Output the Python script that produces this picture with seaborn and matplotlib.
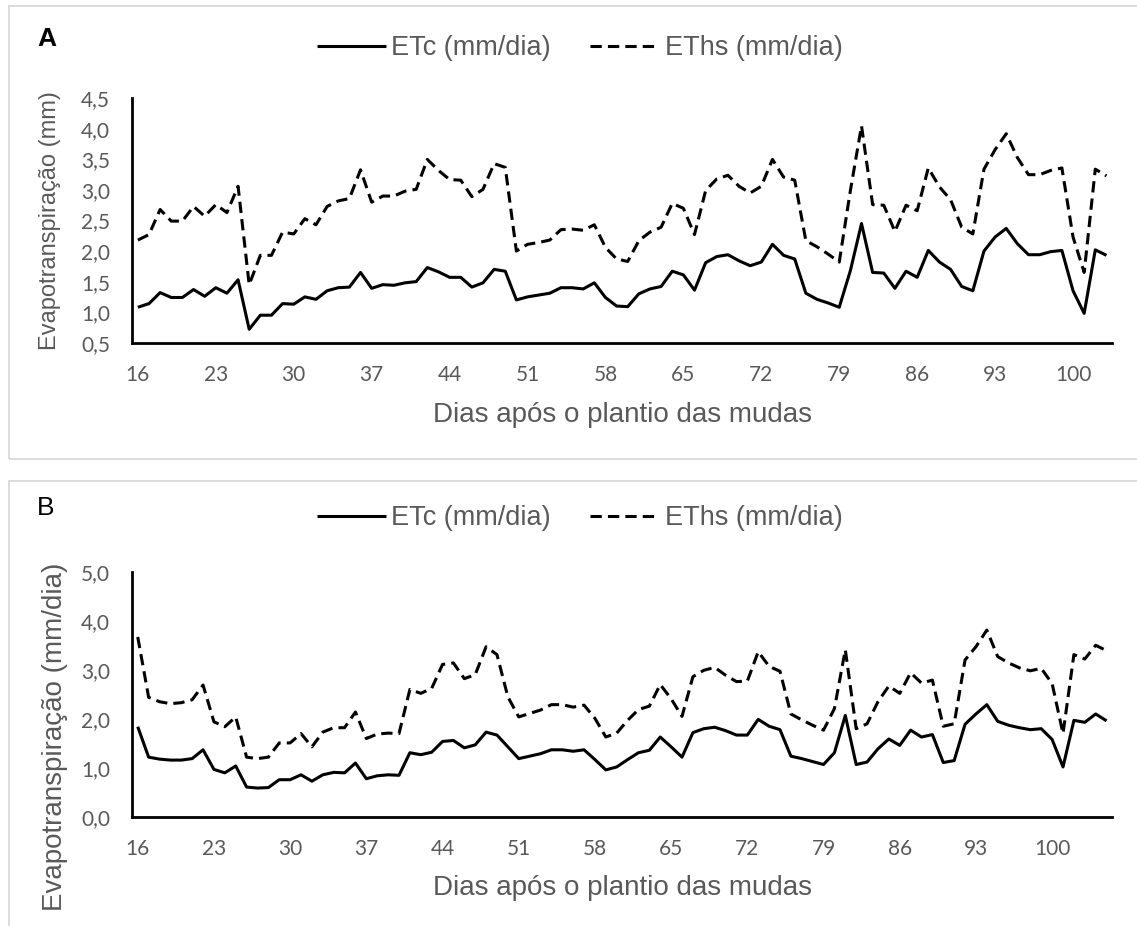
import numpy as np
import pandas as pd
import matplotlib
matplotlib.use("Agg")
import matplotlib.pyplot as plt
from matplotlib.patches import Rectangle
from matplotlib.ticker import FuncFormatter
import seaborn as sns

# ---------------- data ----------------
dias_a = list(range(16, 104))
etc_a = [1.08, 1.14, 1.32, 1.24, 1.24, 1.37, 1.26, 1.40, 1.31, 1.53,
         0.72, 0.95, 0.95, 1.14, 1.13, 1.25, 1.21, 1.35, 1.40, 1.41,
         1.65, 1.39, 1.45, 1.44, 1.48, 1.50, 1.73, 1.66, 1.57, 1.57,
         1.41, 1.48, 1.70, 1.67, 1.20, 1.25, 1.28, 1.31, 1.40, 1.40,
         1.38, 1.48, 1.24, 1.10, 1.09, 1.30, 1.38, 1.42, 1.67, 1.61,
         1.36, 1.81, 1.91, 1.94, 1.84, 1.76, 1.82, 2.11, 1.93, 1.87,
         1.31, 1.21, 1.15, 1.08, 1.68, 2.45, 1.65, 1.64, 1.39, 1.67,
         1.57, 2.01, 1.82, 1.70, 1.42, 1.35, 2.00, 2.23, 2.37, 2.12,
         1.94, 1.94, 1.99, 2.01, 1.35, 0.98, 2.02, 1.93]
eths_a = [2.18, 2.27, 2.68, 2.49, 2.49, 2.73, 2.57, 2.76, 2.63, 3.06,
          1.45, 1.93, 1.93, 2.31, 2.28, 2.53, 2.43, 2.73, 2.82, 2.86,
          3.33, 2.80, 2.90, 2.90, 2.98, 3.01, 3.50, 3.32, 3.17, 3.16,
          2.89, 3.01, 3.43, 3.37, 2.00, 2.11, 2.14, 2.18, 2.35, 2.36,
          2.34, 2.43, 2.06, 1.87, 1.83, 2.17, 2.31, 2.39, 2.78, 2.70,
          2.27, 2.99, 3.18, 3.24, 3.06, 2.95, 3.06, 3.50, 3.21, 3.16,
          2.17, 2.07, 1.95, 1.82, 2.99, 4.05, 2.76, 2.75, 2.32, 2.75,
          2.66, 3.36, 3.05, 2.84, 2.39, 2.28, 3.34, 3.66, 3.92, 3.53,
          3.25, 3.25, 3.32, 3.36, 2.23, 1.65, 3.34, 3.23]

dias_b = list(range(16, 106))
etc_b = [1.84, 1.22, 1.18, 1.16, 1.16, 1.19, 1.37, 0.97, 0.90, 1.04,
         0.61, 0.59, 0.60, 0.76, 0.76, 0.86, 0.73, 0.86, 0.91, 0.90,
         1.10, 0.78, 0.84, 0.86, 0.85, 1.31, 1.27, 1.32, 1.54, 1.56,
         1.41, 1.47, 1.73, 1.67, 1.43, 1.19, 1.24, 1.29, 1.37, 1.37,
         1.34, 1.37, 1.17, 0.96, 1.02, 1.17, 1.31, 1.36, 1.63, 1.43,
         1.22, 1.72, 1.80, 1.83, 1.76, 1.67, 1.67, 1.99, 1.85, 1.78,
         1.24, 1.19, 1.13, 1.07, 1.31, 2.07, 1.07, 1.12, 1.39, 1.59,
         1.46, 1.77, 1.63, 1.68, 1.11, 1.15, 1.89, 2.10, 2.29, 1.95,
         1.87, 1.82, 1.78, 1.80, 1.58, 1.02, 1.97, 1.93, 2.10, 1.96]
eths_b = [3.67, 2.44, 2.35, 2.31, 2.33, 2.39, 2.69, 1.94, 1.84, 2.04,
          1.22, 1.19, 1.22, 1.51, 1.51, 1.70, 1.43, 1.73, 1.82, 1.82,
          2.14, 1.60, 1.69, 1.71, 1.70, 2.60, 2.52, 2.62, 3.11, 3.14,
          2.82, 2.90, 3.47, 3.31, 2.45, 2.04, 2.11, 2.18, 2.29, 2.29,
          2.24, 2.28, 2.01, 1.63, 1.71, 1.97, 2.19, 2.26, 2.70, 2.41,
          2.05, 2.86, 2.99, 3.05, 2.89, 2.76, 2.77, 3.37, 3.07, 2.97,
          2.10, 1.98, 1.87, 1.77, 2.21, 3.41, 1.80, 1.90, 2.35, 2.67,
          2.52, 2.94, 2.73, 2.79, 1.85, 1.90, 3.20, 3.47, 3.81, 3.27,
          3.14, 3.04, 2.98, 3.03, 2.72, 1.70, 3.31, 3.22, 3.50, 3.39]

series_names = ["ETc (mm/dia)", "EThs (mm/dia)"]
xticks = list(range(16, 101, 7))
yticks_a = [0.5, 1.0, 1.5, 2.0, 2.5, 3.0, 3.5, 4.0, 4.5]
yticks_b = [0.0, 1.0, 2.0, 3.0, 4.0, 5.0]

# ---------------- style ----------------
sns.set_theme(style="white")
plt.rcParams["font.family"] = ["Liberation Sans", "DejaVu Sans"]
GREY = "#595959"
W, H = 1137, 926
fig = plt.figure(figsize=(W / 100, H / 100), dpi=100)


def fx(px):
    return px / W


def fy(py):
    return 1 - py / H


# outer chart-area boxes
fig.add_artist(Rectangle((fx(8.5), fy(459.3)), 1.2, fy(6.4) - fy(459.3),
                         transform=fig.transFigure, fill=False,
                         edgecolor="#d9d9d9", lw=1.3))
fig.add_artist(Rectangle((fx(8.5), -0.2), 1.2, fy(480.7) + 0.2,
                         transform=fig.transFigure, fill=False,
                         edgecolor="#d9d9d9", lw=1.3))

left, right = 132.3, 1112
ax_a = fig.add_axes([fx(left), fy(342.7), fx(right - left), (342.7 - 98.3) / H])
ax_b = fig.add_axes([fx(left), fy(817), fx(right - left), (817 - 571.7) / H])

dash_map = {series_names[0]: "", series_names[1]: (3.7, 2.0)}
comma = FuncFormatter(lambda v, p: f"{v:.1f}".replace(".", ","))


def draw(ax, dias, etc, eths, yticks, ylim, xlim):
    df = pd.DataFrame({
        "dia": dias + dias,
        "valor": etc + eths,
        "serie": [series_names[0]] * len(dias) + [series_names[1]] * len(dias),
    })
    sns.lineplot(data=df, x="dia", y="valor", style="serie",
                 style_order=series_names, dashes=dash_map, color="black",
                 linewidth=2.2, ax=ax, legend=False)
    ax.set_xlim(*xlim)
    ax.set_ylim(*ylim)
    ax.set_xticks(xticks)
    ax.set_yticks(yticks)
    ax.yaxis.set_major_formatter(comma)
    ax.set_xlabel("")
    ax.set_ylabel("")
    for s in ["top", "right"]:
        ax.spines[s].set_visible(False)
    for s in ["left", "bottom"]:
        ax.spines[s].set_color("black")
        ax.spines[s].set_linewidth(2.0)
    ax.tick_params(axis="both", length=0, labelcolor=GREY, labelsize=15)
    ax.tick_params(axis="y", pad=16)
    ax.tick_params(axis="x", pad=16)
    for lab in ax.get_xticklabels() + ax.get_yticklabels():
        lab.set_fontfamily(["Lato", "DejaVu Sans"])
    ax.patch.set_alpha(0)
    for ln in ax.lines:
        ln.set_solid_capstyle("butt")
        ln.set_dash_capstyle("butt")
    return ax.lines[:2]


h_a = draw(ax_a, dias_a, etc_a, eths_a, yticks_a, (0.5, 4.5), (15.5, 103.5))
h_b = draw(ax_b, dias_b, etc_b, eths_b, yticks_b, (0.0, 5.0), (15.5, 105.5))

for ax, handles, ly in [(ax_a, h_a, 48), (ax_b, h_b, 518)]:
    fig.legend(handles=handles, labels=series_names, loc="center",
               bbox_to_anchor=(fx(579.5), fy(ly)), bbox_transform=fig.transFigure,
               ncol=2, frameon=False, fontsize=19.5, handlelength=2.55,
               handletextpad=0.2, columnspacing=1.45, labelcolor=GREY)

# panel letters
fig.text(fx(37.5), fy(39), "A", fontsize=19, fontweight="bold", color="black",
         ha="left", va="center")
fig.text(fx(37), fy(508), "B", fontsize=19, color="black", ha="left", va="center")

# axis titles
xc = fx((left + right) / 2)
fig.text(xc, fy(422), "Dias após o plantio das mudas", fontsize=20, color=GREY,
         ha="center", va="baseline")
fig.text(xc, fy(895), "Dias após o plantio das mudas", fontsize=20, color=GREY,
         ha="center", va="baseline")
fig.text(fx(50), fy(220.5), "Evapotranspiração (mm)", fontsize=17, color=GREY,
         rotation=90, ha="center", va="center")
fig.text(fx(55.5), fy(737), "Evapotranspiração (mm/dia)", fontsize=20, color=GREY,
         rotation=90, ha="center", va="center")

fig.savefig("out.png", dpi=100, facecolor="white")
